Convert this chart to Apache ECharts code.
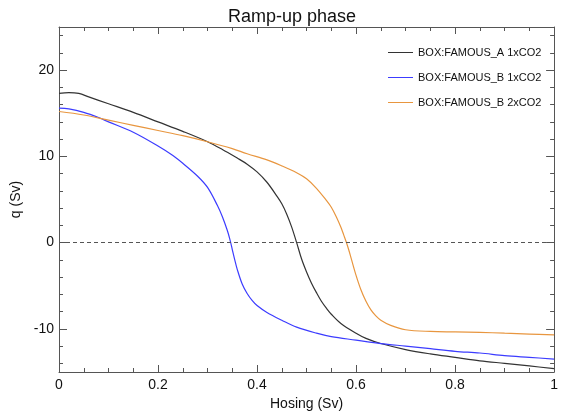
<!DOCTYPE html>
<html>
<head>
<meta charset="utf-8">
<script src="https://cdn.jsdelivr.net/npm/echarts@6/dist/echarts.min.js"></script>
<style>html,body{margin:0;padding:0;background:#fff}#c{width:561px;height:416px}</style>
</head>
<body>
<div id="c"></div>
<script>
const titleText = 'Ramp-up phase';
const xName = 'Hosing (Sv)';
const yName = 'q (Sv)';
const seriesNames = ['BOX:FAMOUS_A 1xCO2', 'BOX:FAMOUS_B 1xCO2', 'BOX:FAMOUS_B 2xCO2'];
const yMajorTicks = [-10, 0, 10, 20];
const yMinorTicks = [-14, -12, -8, -6, -4, -2, 2, 4, 6, 8, 12, 14, 16, 18, 22, 24];

const xA = [0, 0.02, 0.04, 0.06, 0.1, 0.15, 0.2, 0.25, 0.3, 0.33, 0.36, 0.38, 0.4, 0.42, 0.44, 0.45, 0.46, 0.47, 0.48, 0.49, 0.5, 0.51, 0.52, 0.53, 0.54, 0.55, 0.57, 0.6, 0.62, 0.65, 0.7, 0.75, 0.8, 0.85, 0.9, 0.95, 1.0];
const qA = [17.3, 17.4, 17.3, 16.9, 16.1, 15.1, 14.0, 12.9, 11.7, 10.8, 9.8, 9.1, 8.2, 7.0, 5.4, 4.5, 3.3, 1.8, 0.0, -1.9, -3.4, -4.7, -5.8, -6.8, -7.6, -8.3, -9.4, -10.5, -11.1, -11.7, -12.4, -12.9, -13.3, -13.7, -14.0, -14.3, -14.6];

const xB1 = [0, 0.02, 0.05, 0.08, 0.1, 0.15, 0.2, 0.23, 0.25, 0.28, 0.3, 0.32, 0.33, 0.34, 0.345, 0.35, 0.355, 0.36, 0.37, 0.38, 0.39, 0.4, 0.42, 0.45, 0.48, 0.52, 0.55, 0.6, 0.65, 0.7, 0.75, 0.8, 0.85, 0.9, 0.95, 1.0];
const qB1 = [15.6, 15.5, 15.1, 14.5, 14.0, 12.8, 11.2, 10.1, 9.2, 7.7, 6.4, 4.3, 3.0, 1.4, 0.4, -0.8, -2.0, -3.1, -4.8, -5.9, -6.7, -7.3, -8.1, -9.0, -9.8, -10.5, -10.9, -11.3, -11.7, -12.0, -12.3, -12.6, -12.8, -13.1, -13.3, -13.5];

const xB2 = [0, 0.05, 0.1, 0.15, 0.2, 0.25, 0.3, 0.35, 0.38, 0.42, 0.45, 0.48, 0.5, 0.52, 0.54, 0.55, 0.56, 0.57, 0.575, 0.58, 0.585, 0.59, 0.6, 0.61, 0.62, 0.63, 0.64, 0.65, 0.67, 0.7, 0.75, 0.8, 0.85, 0.9, 0.95, 1.0];
const qB2 = [15.2, 14.8, 14.2, 13.6, 13.0, 12.4, 11.7, 10.9, 10.3, 9.6, 8.9, 8.1, 7.4, 6.3, 4.9, 4.1, 3.0, 1.7, 0.9, 0.1, -0.8, -1.8, -3.8, -5.5, -6.8, -7.8, -8.5, -9.0, -9.6, -10.1, -10.3, -10.35, -10.4, -10.5, -10.6, -10.7];

const zeroLine = 0;

function pairs(xs, ys) { return xs.map((x, i) => [x, ys[i]]); }

const FONT = 'Liberation Sans, Arial, Helvetica, sans-serif';
const axisCol = '#555';
const colors = ['#333333', '#3c3cff', '#e8963f'];
const lineIcon = 'path://M0,0 L50,0 L50,2 L0,2 Z';

const chart = echarts.init(document.getElementById('c'), null, {renderer: 'canvas'});

const baseX = {
  type: 'value', min: 0, max: 1, interval: 0.2,
  axisLine: {show: true, onZero: false, lineStyle: {color: axisCol, width: 1}},
  axisTick: {show: true, inside: true, length: 7, lineStyle: {color: axisCol}},
  minorTick: {show: true, splitNumber: 4, length: 4, lineStyle: {color: axisCol}},
  splitLine: {show: false}, minorSplitLine: {show: false}
};

function yAxisDef(pos, ticks, len, withLabels, withLine) {
  return {
    type: 'value', min: -15, max: 25, position: pos,
    axisLine: {show: withLine, onZero: false, lineStyle: {color: axisCol, width: 1}},
    axisTick: {show: true, inside: true, length: len, customValues: ticks, lineStyle: {color: axisCol}},
    axisLabel: withLabels ? {show: true, customValues: yMajorTicks, fontSize: 14, color: '#111', fontFamily: FONT, margin: 5} : {show: false},
    splitLine: {show: false},
    name: withLabels ? yName : '',
    nameLocation: 'middle', nameGap: 30,
    nameTextStyle: {fontSize: 14, color: '#111', fontFamily: FONT}
  };
}

function lineSeries(i, xs, ys, extra) {
  return Object.assign({
    name: seriesNames[i], type: 'line', data: pairs(xs, ys),
    smooth: 0.35,
    symbol: 'none', lineStyle: {color: colors[i], width: 1.2}, itemStyle: {color: colors[i]}
  }, extra || {});
}

chart.setOption({
  animation: false,
  backgroundColor: '#fff',
  title: {
    text: titleText, left: 287, top: 3, textAlign: 'center',
    textStyle: {fontSize: 18, fontWeight: 'normal', color: '#111', fontFamily: FONT}
  },
  legend: {
    orient: 'vertical', left: 383, top: 42,
    itemWidth: 25, itemHeight: 12, itemGap: 14,
    textStyle: {fontSize: 11, color: '#111', fontFamily: FONT},
    data: seriesNames.map(n => ({name: n, icon: lineIcon}))
  },
  grid: {left: 59, right: 4, top: 27, bottom: 44},
  xAxis: [
    Object.assign({}, baseX, {
      position: 'bottom',
      axisLabel: {fontSize: 14, color: '#111', fontFamily: FONT, margin: 6},
      name: xName, nameLocation: 'middle', nameGap: 14,
      nameTextStyle: {fontSize: 14, color: '#111', fontFamily: FONT}
    }),
    Object.assign({}, baseX, {position: 'top', axisLabel: {show: false}})
  ],
  yAxis: [
    yAxisDef('left', yMajorTicks, 8, true, true),
    yAxisDef('left', yMinorTicks, 4, false, false),
    yAxisDef('right', yMajorTicks, 8, false, true),
    yAxisDef('right', yMinorTicks, 4, false, false)
  ],
  series: [
    lineSeries(0, xA, qA, {
      markLine: {
        silent: true, symbol: ['none', 'none'], label: {show: false},
        lineStyle: {color: '#555', type: [4, 3], width: 1.2},
        data: [{yAxis: zeroLine}]
      }
    }),
    lineSeries(1, xB1, qB1),
    lineSeries(2, xB2, qB2)
  ]
});
</script>
</body>
</html>
